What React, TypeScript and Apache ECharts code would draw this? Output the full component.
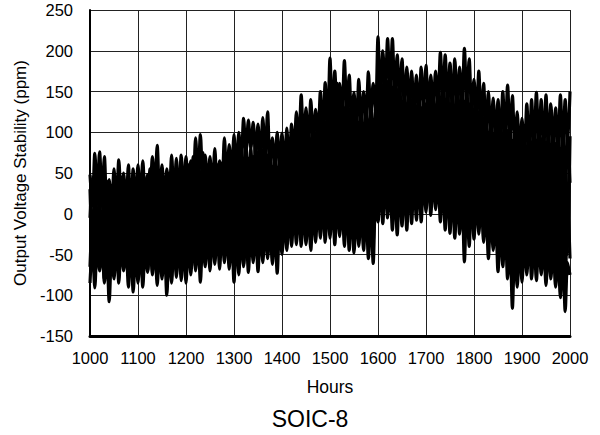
import React, { useEffect, useRef } from "react";
import * as echarts from "echarts";

// Sample times: every 5 hours from 1000 to 2000
const HOURS: number[] = [];
for (let h = 1000; h <= 2000; h += 5) HOURS.push(h);

const X_TICKS = [1000, 1100, 1200, 1300, 1400, 1500, 1600, 1700, 1800, 1900, 2000];
const Y_TICKS = [-150, -100, -50, 0, 50, 100, 150, 200, 250];

// Output voltage stability (ppm) traces (one row = 25 hours)
const TRACE_TOP = [
  48, 10, 74, 25, 76,
  20, 70, 5, 42, 0,
  55, 10, 66, 18, 50,
  5, 60, 0, 55, 12,
  60, 15, 65, 20, 48,
  25, 70, 30, 84, 22,
  60, 10, 55, 18, 72,
  20, 68, 15, 72, 25,
  70, 30, 65, 35, 93,
  40, 97, 45, 72, 30,
  70, 25, 80, 30, 65,
  35, 93, 40, 85, 45,
  97, 50, 100, 60, 117,
  75, 115, 80, 112, 70,
  110, 65, 118, 70, 125,
  60, 93, 55, 100, 60,
  99, 50, 105, 55, 110,
  70, 125, 80, 146, 85,
  130, 80, 140, 90, 128,
  90, 150, 95, 161, 100,
  191, 120, 175, 115, 160,
  120, 188, 130, 170, 110,
  149, 100, 165, 110, 150,
  115, 174, 120, 160, 125,
  217, 140, 200, 150, 215,
  150, 215, 145, 195, 140,
  190, 130, 180, 135, 175,
  125, 170, 120, 180, 130,
  182, 125, 170, 130, 175,
  135, 198, 140, 195, 130,
  185, 125, 190, 135, 180,
  130, 203, 140, 190, 125,
  165, 115, 175, 110, 160,
  100, 150, 95, 142, 90,
  140, 85, 150, 90, 158,
  95, 145, 80, 125, 70,
  117, 70, 135, 75, 140,
  80, 149, 85, 140, 75,
  146, 80, 135, 85, 130,
  75, 146, 80, 140, 85,
  150,
];
const TRACE_UPPER = [
  -5, 45, -10, 55, 0,
  50, -15, 40, -20, 35,
  -8, 40, -12, 45, -5,
  35, -18, 42, -15, 30,
  -10, 45, -15, 38, -12,
  55, 0, 60, -5, 50,
  -12, 45, -16, 50, -10,
  48, -5, 52, 0, 45,
  5, 60, 2, 70, 8,
  65, 5, 75, 10, 60,
  3, 55, 8, 60, 5,
  62, 12, 70, 15, 65,
  18, 80, 15, 90, 20,
  85, 20, 80, 25, 88,
  28, 92, 25, 95, 30,
  70, 15, 75, 12, 72,
  25, 82, 30, 85, 35,
  100, 50, 110, 55, 115,
  50, 105, 45, 112, 52,
  120, 60, 125, 65, 135,
  75, 150, 80, 160, 78,
  145, 70, 155, 75, 140,
  60, 125, 55, 130, 58,
  135, 55, 140, 60, 130,
  100, 175, 105, 180, 98,
  170, 95, 180, 92, 165,
  88, 150, 85, 160, 82,
  145, 85, 150, 88, 140,
  92, 150, 88, 145, 90,
  160, 90, 170, 85, 155,
  82, 150, 78, 160, 80,
  165, 70, 155, 75, 150,
  72, 140, 70, 130, 68,
  115, 50, 120, 45, 110,
  45, 118, 42, 125, 40,
  110, 22, 100, 20, 95,
  28, 100, 25, 110, 30,
  105, 35, 115, 30, 100,
  28, 105, 25, 110, 30,
  100, 15, 110, 12, 105,
  38,
];
const TRACE_MID = [
  30, -45, 35, -50, 25,
  -60, 28, -55, 30, -62,
  25, -48, 30, -45, 28,
  -55, 20, -58, 25, -50,
  22, -50, 28, -52, 25,
  -45, 40, -40, 42, -48,
  25, -55, 30, -58, 28,
  -45, 32, -40, 35, -42,
  48, -40, 45, -42, 50,
  -38, 50, -40, 52, -35,
  42, -35, 40, -32, 45,
  -28, 52, -25, 55, -30,
  65, -30, 68, -35, 62,
  -25, 68, -20, 70, -28,
  75, -22, 78, -20, 72,
  -30, 58, -28, 55, -32,
  70, -12, 68, -15, 72,
  5, 98, 10, 100, 5,
  95, 2, 92, 0, 95,
  15, 110, 12, 112, 18,
  135, 20, 130, 22, 132,
  15, 130, 18, 128, 12,
  110, 5, 112, 2, 108,
  0, 115, -2, 112, 5,
  160, 45, 158, 48, 162,
  35, 155, 38, 152, 32,
  138, 32, 135, 35, 140,
  38, 132, 35, 130, 40,
  135, 45, 138, 42, 132,
  35, 142, 38, 140, 32,
  135, 25, 132, 28, 138,
  5, 138, 8, 135, 2,
  122, 20, 125, 22, 118,
  -5, 100, -2, 98, -8,
  100, -12, 98, -15, 102,
  -48, 90, -45, 88, -50,
  85, -28, 82, -25, 88,
  -22, 90, -25, 92, -20,
  88, -30, 85, -32, 86,
  -52, 78, -55, 80, -50,
  95,
];
const TRACE_LOWER = [
  -65, -5, -70, 0, -60,
  -15, -80, -12, -85, -18,
  -62, -8, -58, -12, -65,
  -15, -70, -20, -75, -12,
  -68, -10, -62, -15, -70,
  0, -65, -5, -60, 2,
  -75, -12, -80, -15, -72,
  -2, -60, -8, -58, 0,
  -62, 5, -58, 2, -65,
  8, -60, 5, -55, 10,
  -50, 3, -48, 8, -45,
  15, -45, 12, -48, 18,
  -60, 20, -55, 15, -62,
  25, -50, 20, -48, 22,
  -48, 28, -45, 30, -50,
  12, -50, 15, -55, 18,
  -35, 30, -30, 25, -28,
  50, -18, 55, -15, 52,
  -22, 48, -25, 45, -20,
  60, -12, 65, -10, 62,
  -15, 75, -18, 78, -12,
  70, -22, 72, -25, 68,
  -28, 55, -30, 60, -25,
  55, -38, 58, -35, 60,
  12, 100, 15, 105, 10,
  92, 0, 95, -5, 90,
  5, 82, 2, 88, 8,
  85, 12, 82, 15, 88,
  20, 92, 22, 88, 18,
  88, 2, 90, 5, 85,
  -8, 80, -10, 78, -5,
  70, -35, 72, -30, 75,
  -10, 70, -8, 72, -12,
  48, -30, 45, -32, 50,
  -45, 42, -48, 45, -50,
  20, -85, 22, -80, 18,
  -60, 28, -55, 30, -58,
  35, -58, 32, -60, 30,
  -65, 28, -62, 25, -68,
  15, -90, 12, -95, 18,
  -55,
];
const TRACE_BOTTOM = [
  -85, -40, -91, -35, -70,
  -40, -85, -45, -108, -50,
  -80, -30, -85, -35, -70,
  -40, -90, -35, -96, -45,
  -85, -35, -90, -40, -72,
  -30, -75, -35, -88, -40,
  -80, -35, -100, -45, -85,
  -30, -78, -28, -82, -35,
  -85, -30, -75, -25, -70,
  -25, -84, -30, -65, -20,
  -70, -20, -62, -15, -68,
  -15, -60, -20, -68, -18,
  -84, -25, -75, -20, -65,
  -15, -72, -20, -60, -12,
  -71, -15, -60, -10, -55,
  -12, -62, -15, -73, -10,
  -50, 0, -45, 5, -40,
  10, -38, 15, -40, 12,
  -38, 8, -45, 12, -35,
  15, -30, 20, -35, 18,
  -30, 20, -38, 22, -28,
  15, -40, 20, -45, 12,
  -48, 5, -40, 8, -45,
  10, -55, 5, -61, 15,
  -10, 45, -12, 50, -5,
  40, -20, 35, -26, 42,
  -15, 40, -20, 45, -12,
  45, -8, 50, -10, 48,
  2, 55, -2, 50, 5,
  50, -10, 45, -20, 40,
  -24, 35, -30, 30, -25,
  25, -59, 20, -40, 30,
  -31, 25, -25, 20, -35,
  10, -55, 5, -45, 0,
  -71, -15, -65, -10, -80,
  -30, -116, -40, -90, -35,
  -84, -30, -75, -25, -80,
  -30, -82, -25, -75, -35,
  -88, -35, -80, -40, -90,
  -50, -103, -45, -120, -60,
  -75,
];

const TRACES = [TRACE_MID, TRACE_LOWER, TRACE_UPPER, TRACE_BOTTOM, TRACE_TOP];

const FONT = "'Liberation Sans', Arial, Helvetica, sans-serif";

export default function App() {
  const ref = useRef<HTMLDivElement>(null);
  useEffect(() => {
    if (!ref.current) return;
    const chart = echarts.init(ref.current, null, { renderer: "svg" });
    chart.setOption({
      animation: false,
      backgroundColor: "#ffffff",
      grid: { left: 90, right: 30, top: 10, bottom: 99, containLabel: false },
      xAxis: {
        type: "value",
        min: X_TICKS[0],
        max: X_TICKS[X_TICKS.length - 1],
        interval: 100,
        name: "Hours",
        nameLocation: "middle",
        nameGap: 42,
        nameTextStyle: { color: "#000", fontSize: 17.5, fontFamily: FONT },
        axisLine: { show: true, onZero: false, lineStyle: { color: "#000", width: 3 } },
        axisTick: { show: false },
        axisLabel: {
          color: "#000",
          fontSize: 16.5,
          fontFamily: FONT,
          margin: 13,
          formatter: (v: number) => String(v),
        },
        splitLine: { show: true, lineStyle: { color: "#222", width: 1 } },
      },
      yAxis: {
        type: "value",
        min: Y_TICKS[0],
        max: Y_TICKS[Y_TICKS.length - 1],
        interval: 50,
        name: "Output Voltage Stability (ppm)",
        nameLocation: "middle",
        nameGap: 61,
        nameRotate: 90,
        nameTextStyle: { color: "#000", fontSize: 17, fontFamily: FONT },
        axisLine: { show: true, onZero: false, lineStyle: { color: "#000", width: 2 } },
        axisTick: { show: false },
        axisLabel: { color: "#000", fontSize: 16.5, fontFamily: FONT, margin: 17 },
        splitLine: { show: true, lineStyle: { color: "#222", width: 1 } },
      },
      graphic: [
        {
          type: "text",
          x: 310,
          y: 419,
          style: {
            text: "SOIC-8",
            fill: "#000",
            fontSize: 23,
            fontFamily: FONT,
            textAlign: "center",
            textVerticalAlign: "middle",
          },
        },
      ],
      series: TRACES.map((vals, i) => ({
        type: "line",
        name: "Trace " + (i + 1),
        data: vals.map((v, j) => [HOURS[j], v]),
        showSymbol: false,
        symbol: "none",
        smooth: 0.3,
        lineStyle: { color: "#000", width: 3.2 },
        silent: true,
      })),
    });
    return () => chart.dispose();
  }, []);
  return (
    <div
      ref={ref}
      style={{ position: "absolute", left: 0, top: 0, width: 600, height: 435 }}
    />
  );
}
